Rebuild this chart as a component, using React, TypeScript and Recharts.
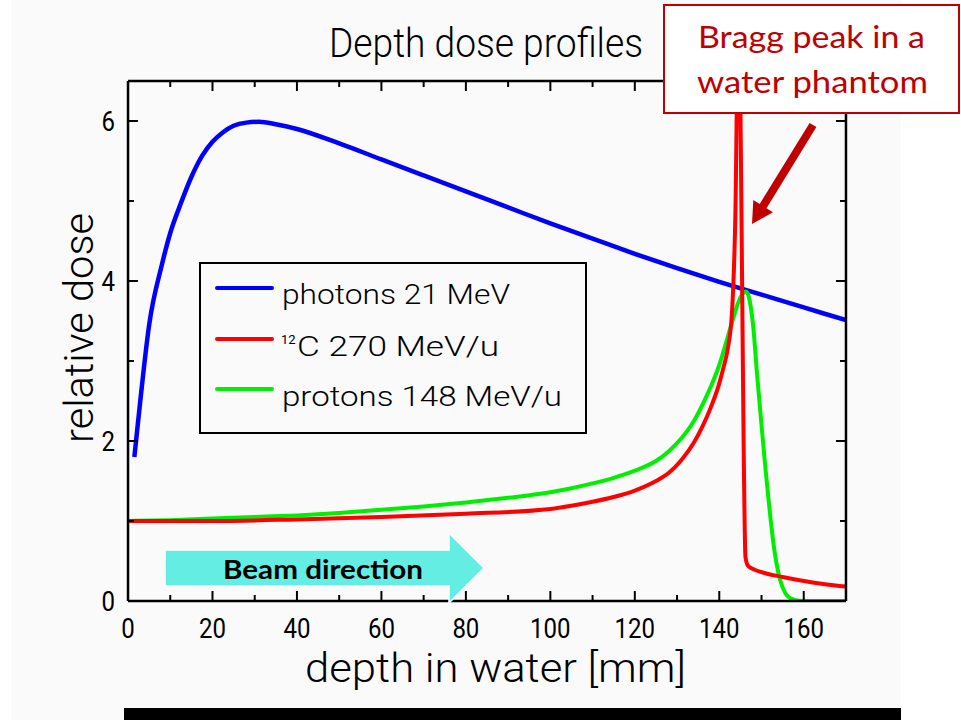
import React from 'react';
import { LineChart, Line, XAxis, YAxis, Legend } from 'recharts';

// ---- data ----
const photonDepth = [1.5, 3, 5, 8, 10, 12.5, 15, 17.5, 20, 22.5, 25, 28, 31, 35, 40, 50, 60, 70, 80, 90, 100, 110, 120, 130, 140, 150, 160, 170];
const photonDose = [1.8, 2.55, 3.45, 4.2, 4.6, 4.97, 5.3, 5.56, 5.74, 5.86, 5.94, 5.98, 5.99, 5.96, 5.9, 5.72, 5.52, 5.32, 5.12, 4.92, 4.72, 4.53, 4.34, 4.16, 3.99, 3.83, 3.67, 3.51];

const carbonDepth = [0, 20, 40, 60, 80, 100, 105, 110, 115, 120, 125, 128, 131, 134, 136, 138, 140, 141, 142, 143, 143.8, 144.5, 145.0, 145.4, 145.8, 146.2, 146.8, 148, 150, 155, 160, 165, 170];
const carbonDose = [1.0, 1.0, 1.02, 1.05, 1.09, 1.15, 1.19, 1.24, 1.3, 1.38, 1.5, 1.6, 1.76, 1.98, 2.18, 2.42, 2.72, 2.92, 3.15, 3.6, 4.8, 7.2, 6.2, 4.0, 1.8, 0.55, 0.44, 0.4, 0.36, 0.3, 0.25, 0.21, 0.18];

const protonDepth = [0, 10, 20, 30, 40, 50, 60, 70, 80, 90, 100, 105, 110, 115, 120, 125, 128, 131, 134, 136, 138, 140, 141, 142, 143, 144.5, 145.5, 146.3, 147, 148, 149, 150, 151, 152, 153, 154, 155, 156, 157, 158, 160, 170];
const protonDose = [1.0, 1.01, 1.03, 1.05, 1.07, 1.1, 1.14, 1.18, 1.23, 1.29, 1.36, 1.41, 1.47, 1.54, 1.63, 1.75, 1.87, 2.03, 2.25, 2.45, 2.68, 2.95, 3.12, 3.3, 3.48, 3.73, 3.84, 3.87, 3.8, 3.45, 2.8, 2.2, 1.62, 1.1, 0.65, 0.35, 0.17, 0.07, 0.03, 0.01, 0, 0];

const xMajorTicks = [0, 20, 40, 60, 80, 100, 120, 140, 160];
const xMinorTicks = [10, 30, 50, 70, 90, 110, 130, 150];
const yMajorTicks = [0, 2, 4, 6];
const yMinorTicks = [1, 3, 5];

const seriesNames = ['photons 21 MeV', 'C 270 MeV/u', 'protons 148 MeV/u'];
const seriesColors = ['#0000ff', '#ff0000', '#00ee00'];
const carbonSuperscript = '12';

const titleText = 'Depth dose profiles';
const xLabelText = 'depth in water [mm]';
const yLabelText = 'relative dose';
const calloutLines = ['Bragg peak in a', 'water phantom'];
const beamText = 'Beam direction';

const zip = (xs: number[], ys: number[]) => xs.map((d, i) => ({ d, v: ys[i] }));

const FONT = "Roboto, 'DejaVu Sans Condensed', sans-serif";
const FW = 300;
const TICK_FW = 400;
const CAL = "Lato, 'Open Sans', sans-serif";
const X_DOMAIN: [number, number] = [0, 170];
const Y_DOMAIN: [number, number] = [0, 6.5];
const AXIS_LINE = { stroke: '#000', strokeWidth: 2.5 };
const TICK_LINE = { stroke: '#000', strokeWidth: 2 };
const TINY = 0.01;
const DIGIT_W = 13.5;

const noLabel = () => <g />;

const XTick = (p: any) => {
  const s = String(p.payload.value);
  return (
    <text x={p.x} y={p.y} dy={20} textAnchor="middle" fontSize={28} fontFamily={FONT} fontWeight={TICK_FW} fill="#000"
      textLength={s.length * DIGIT_W} lengthAdjust="spacingAndGlyphs">{s}</text>
  );
};

const YTick = (p: any) => {
  const s = String(p.payload.value);
  return (
    <text x={p.x} y={p.y} dy={10} textAnchor="end" fontSize={28} fontFamily={FONT} fontWeight={TICK_FW} fill="#000"
      textLength={s.length * DIGIT_W} lengthAdjust="spacingAndGlyphs">{s}</text>
  );
};

const LegendBox = () => {
  const rows = [26, 77, 127];
  return (
    <svg width={390} height={174} style={{ display: 'block' }}>
      <rect x={1} y={1} width={386} height={170} fill="#fafafa" stroke="#000" strokeWidth={2} />
      {rows.map((ry, i) => (
        <line key={'l' + i} x1={18} x2={73} y1={ry} y2={ry} stroke={seriesColors[i]} strokeWidth={4} strokeLinecap="round" />
      ))}
      <g fontFamily={FONT} fontWeight={FW} fill="#000">
        <text x={83} y={42} fontSize={28} textLength={228} lengthAdjust="spacingAndGlyphs">{seriesNames[0]}</text>
        <text x={82} y={82} fontSize={13} fontWeight={400}>{carbonSuperscript}</text>
        <text x={98} y={94} fontSize={28} textLength={202} lengthAdjust="spacingAndGlyphs">{seriesNames[1]}</text>
        <text x={83} y={144} fontSize={28} textLength={280} lengthAdjust="spacingAndGlyphs">{seriesNames[2]}</text>
      </g>
    </svg>
  );
};

export default function App() {
  const photons = zip(photonDepth, photonDose);
  const carbon = zip(carbonDepth, carbonDose);
  const protons = zip(protonDepth, protonDose);

  return (
    <div style={{ position: 'absolute', left: 0, top: 0, width: 961, height: 720, background: '#ffffff', overflow: 'hidden' }}>
      <div style={{ position: 'absolute', left: 11, top: 0, width: 890, height: 720, background: '#fafafa' }} />
      <div style={{ position: 'absolute', left: 124, top: 708, width: 777, height: 12, background: '#000' }} />
      <div style={{ position: 'absolute', left: 0, top: 0 }}>
        <LineChart width={961} height={720} margin={{ top: 81, right: 115, bottom: 119, left: 128 }}>
          {/* bottom axis, major + minor */}
          <XAxis xAxisId="x" type="number" dataKey="d" domain={X_DOMAIN} ticks={xMajorTicks} interval={0} height={TINY}
            tickSize={-10} tickMargin={27} axisLine={AXIS_LINE} tickLine={TICK_LINE}
            tick={XTick} allowDataOverflow />
          <XAxis xAxisId="xm" type="number" dataKey="d" domain={X_DOMAIN} ticks={xMinorTicks} interval={0} height={TINY}
            tickSize={-6} axisLine={false} tickLine={TICK_LINE} tick={noLabel} allowDataOverflow />
          {/* top axis (mirror frame) */}
          <XAxis xAxisId="xt" orientation="top" type="number" dataKey="d" domain={X_DOMAIN} ticks={xMajorTicks} interval={0} height={TINY}
            tickSize={-10} axisLine={AXIS_LINE} tickLine={TICK_LINE} tick={noLabel} allowDataOverflow />
          <XAxis xAxisId="xtm" orientation="top" type="number" dataKey="d" domain={X_DOMAIN} ticks={xMinorTicks} interval={0} height={TINY}
            tickSize={-6} axisLine={false} tickLine={TICK_LINE} tick={noLabel} allowDataOverflow />
          {/* left axis */}
          <YAxis yAxisId="y" type="number" domain={Y_DOMAIN} ticks={yMajorTicks} interval={0} width={TINY}
            tickSize={-10} tickMargin={23} axisLine={AXIS_LINE} tickLine={TICK_LINE}
            tick={YTick} allowDataOverflow />
          <YAxis yAxisId="ym" type="number" domain={Y_DOMAIN} ticks={yMinorTicks} interval={0} width={TINY}
            tickSize={-6} axisLine={false} tickLine={TICK_LINE} tick={noLabel} allowDataOverflow />
          {/* right axis (mirror frame) */}
          <YAxis yAxisId="yr" orientation="right" type="number" domain={Y_DOMAIN} ticks={yMajorTicks} interval={0} width={TINY}
            tickSize={-10} axisLine={AXIS_LINE} tickLine={TICK_LINE} tick={noLabel} allowDataOverflow />
          <YAxis yAxisId="yrm" orientation="right" type="number" domain={Y_DOMAIN} ticks={yMinorTicks} interval={0} width={TINY}
            tickSize={-6} axisLine={false} tickLine={TICK_LINE} tick={noLabel} allowDataOverflow />

          <Line xAxisId="x" yAxisId="y" data={photons} dataKey="v" name={seriesNames[0]} type="monotone"
            stroke={seriesColors[0]} strokeWidth={4.5} dot={false} activeDot={false} isAnimationActive={false} />
          <Line xAxisId="x" yAxisId="y" data={protons} dataKey="v" name={seriesNames[2]} type="monotone"
            stroke={seriesColors[2]} strokeWidth={4} dot={false} activeDot={false} isAnimationActive={false} />
          <Line xAxisId="x" yAxisId="y" data={carbon} dataKey="v" name={seriesNames[1]} type="monotone"
            stroke={seriesColors[1]} strokeWidth={4} dot={false} activeDot={false} isAnimationActive={false} />

          <Legend layout="horizontal" verticalAlign="middle" align="center"
            wrapperStyle={{ left: 199, top: 262, width: 390, height: 174 }}
            content={() => <LegendBox />} />
        </LineChart>
      </div>

      <svg width={961} height={720} style={{ position: 'absolute', left: 0, top: 0, pointerEvents: 'none' }}>
        <g fontFamily={FONT} fontWeight={FW} fill="#000">
          <text x={329} y={57} fontSize={40} textLength={314} lengthAdjust="spacingAndGlyphs">{titleText}</text>
          <text x={305} y={682} fontSize={40} textLength={381} lengthAdjust="spacingAndGlyphs">{xLabelText}</text>
          <text transform="translate(93,443) rotate(-90)" fontSize={40} textLength={230} lengthAdjust="spacingAndGlyphs">{yLabelText}</text>
        </g>

        {/* beam direction arrow */}
        <polygon points="165,550 449,550 449,533 484,568 449,603 449,586 165,586" fill="#64ede2" stroke="#ffffff" strokeWidth={1.5} />
        <text x={223} y={579} fontSize={27} fontWeight={700} fontFamily={CAL} fill="#000" textLength={200} lengthAdjust="spacingAndGlyphs">{beamText}</text>

        {/* Bragg peak callout */}
        <polygon points="809.6,122.9 759.7,204.1 753.3,200.1 752,224 772.9,212.3 766.5,208.3 816.4,127.1" fill="#c00000" />
        <rect x={664} y={5} width={295} height={108} fill="#ffffff" stroke="#c00000" strokeWidth={2} />
        <text x={698} y={48} fontSize={30} fontFamily={CAL} fill="#c00000" textLength={227} lengthAdjust="spacingAndGlyphs">{calloutLines[0]}</text>
        <text x={697} y={93} fontSize={30} fontFamily={CAL} fill="#c00000" textLength={231} lengthAdjust="spacingAndGlyphs">{calloutLines[1]}</text>
      </svg>
    </div>
  );
}
